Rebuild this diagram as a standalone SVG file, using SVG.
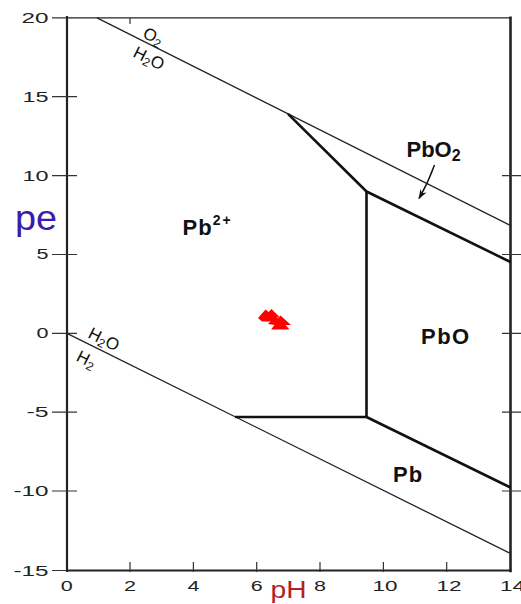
<svg xmlns="http://www.w3.org/2000/svg" width="521" height="604" viewBox="0 0 521 604">
<defs>
<style>
.ax{stroke:#222;fill:none;stroke-linecap:square}
.tk{stroke:#333;stroke-width:1.2;fill:none}
.w{stroke:#222;stroke-width:1.3;fill:none}
.b{stroke:#111;stroke-width:2.6;fill:none;stroke-linejoin:round}
.tl{font-family:"Liberation Sans",Arial,sans-serif;font-size:14px;fill:#222}
.lb{font-family:"Liberation Sans",Arial,sans-serif;font-size:22px;font-weight:bold;fill:#111}
.sm{font-family:"Liberation Sans",Arial,sans-serif;font-size:17px;fill:#111}
</style>
<marker id="ah" viewBox="0 0 10 8" refX="9" refY="4" markerWidth="10" markerHeight="8" markerUnits="userSpaceOnUse" orient="auto">
<path d="M0,0.5 L10,4 L0,7.5 L3,4 Z" fill="#111"/>
</marker>
</defs>
<rect x="0" y="0" width="521" height="604" fill="#fff"/>

<g id="axes">
<line class="ax" x1="67" y1="17" x2="67" y2="571" stroke-width="2.2"/>
<line class="ax" x1="67" y1="17.9" x2="510.5" y2="17.9" stroke-width="1.4"/>
<line class="ax" x1="67" y1="570.5" x2="510.5" y2="570.5" stroke-width="2"/>
<line class="ax" x1="510.5" y1="17.9" x2="510.5" y2="571" stroke-width="2.6"/>
<g class="tk">
<path d="M52,17.9H67M52,96.7H77M52,175.6H77M52,254.5H77M52,333.3H77M52,412.2H77M52,491H77M52,570.5H67"/>
<path d="M502,175.6H521M502,254.5H521M502,333.3H521M502,412.2H521M502,491H521"/>
<path d="M130,562V572M193.4,562V572M256.7,562V572M320,562V572M383.4,562V572M446.7,562V572"/>
<path d="M130,17.9V24"/>
</g>
<g class="tl" text-anchor="end">
<text x="48.5" y="22.8" textLength="27" lengthAdjust="spacingAndGlyphs">20</text>
<text x="48.5" y="101.7" textLength="26" lengthAdjust="spacingAndGlyphs">15</text>
<text x="48.5" y="180.5" textLength="26" lengthAdjust="spacingAndGlyphs">10</text>
<text x="48.5" y="259.4" textLength="12" lengthAdjust="spacingAndGlyphs">5</text>
<text x="48.5" y="338.2" textLength="12" lengthAdjust="spacingAndGlyphs">0</text>
<text x="48.5" y="417.1" textLength="22" lengthAdjust="spacingAndGlyphs">-5</text>
<text x="48.5" y="495.9" textLength="35" lengthAdjust="spacingAndGlyphs">-10</text>
<text x="48.5" y="575.5" textLength="35" lengthAdjust="spacingAndGlyphs">-15</text>
</g>
<g class="tl" text-anchor="middle">
<text x="66.7" y="590.5" textLength="12" lengthAdjust="spacingAndGlyphs">0</text>
<text x="130" y="590.5" textLength="12" lengthAdjust="spacingAndGlyphs">2</text>
<text x="193.4" y="590.5" textLength="12" lengthAdjust="spacingAndGlyphs">4</text>
<text x="256.7" y="590.5" textLength="12" lengthAdjust="spacingAndGlyphs">6</text>
<text x="320" y="590.5" textLength="12" lengthAdjust="spacingAndGlyphs">8</text>
<text x="385" y="590.5" textLength="25" lengthAdjust="spacingAndGlyphs">10</text>
<text x="449" y="590.5" textLength="25" lengthAdjust="spacingAndGlyphs">12</text>
<text x="512.5" y="590.5" textLength="25" lengthAdjust="spacingAndGlyphs">14</text>
</g>
<text x="15" y="230" font-family="'Liberation Sans',Arial,sans-serif" font-size="35" fill="#3b1cab" textLength="42" lengthAdjust="spacingAndGlyphs">pe</text>
<text x="270.5" y="597.5" font-family="'Liberation Sans',Arial,sans-serif" font-size="23" fill="#b3201f" textLength="36" lengthAdjust="spacingAndGlyphs">pH</text>
</g>

<g id="connectors">
<line class="w" x1="97" y1="17.9" x2="510.5" y2="225.5"/>
<line class="w" x1="67" y1="333.3" x2="510.5" y2="553.5"/>
<path class="b" d="M288,113.8 L366.5,191.5 L510.5,262"/>
<path class="b" d="M366.5,191.5 L366.5,417"/>
<path class="b" d="M235,417 L366.5,417 L510.5,487.5"/>
<path d="M434.5,165 Q428,183 419,198.5" stroke="#111" stroke-width="1.4" fill="none" marker-end="url(#ah)"/>
</g>

<g id="label-o2-h2o">
<text class="sm" transform="translate(153,37) rotate(26.5)" text-anchor="middle" dy="5">O<tspan font-size="12" dy="3">2</tspan></text>
<text class="sm" transform="translate(149,58) rotate(26.5)" text-anchor="middle" dy="6">H<tspan font-size="12" dy="3">2</tspan><tspan dy="-3">O</tspan></text>
</g>
<g id="label-h2o-h2">
<text class="sm" transform="translate(104,339) rotate(26.5)" text-anchor="middle" dy="6">H<tspan font-size="12" dy="3">2</tspan><tspan dy="-3">O</tspan></text>
<text class="sm" transform="translate(86,360) rotate(26.5)" text-anchor="middle" dy="5">H<tspan font-size="12" dy="3">2</tspan></text>
</g>

<g id="node-pb2">
<text class="lb" x="182.5" y="235" font-size="20" letter-spacing="1">Pb<tspan font-size="14" dy="-10" letter-spacing="2">2+</tspan></text>
</g>
<g id="node-pbo2">
<text class="lb" x="406.5" y="156.5" letter-spacing="0">PbO<tspan font-size="16" dy="4">2</tspan></text>
</g>
<g id="node-pbo">
<text class="lb" x="421" y="343.5" letter-spacing="1.5">PbO</text>
</g>
<g id="node-pb">
<text class="lb" x="393" y="481.5" letter-spacing="1">Pb</text>
</g>

<g id="marker-red" fill="#f00">
<polygon points="258,318 265.5,309.5 268.5,312 271.5,309 280,317.5 276.5,317.5 279.5,321.5 262,321.5"/>
<polygon points="268,324 275,316.5 278,318.5 280.5,315.5 291,325 285.5,325 289.5,329.5 271,329.5 274.5,325"/>
</g>
</svg>
